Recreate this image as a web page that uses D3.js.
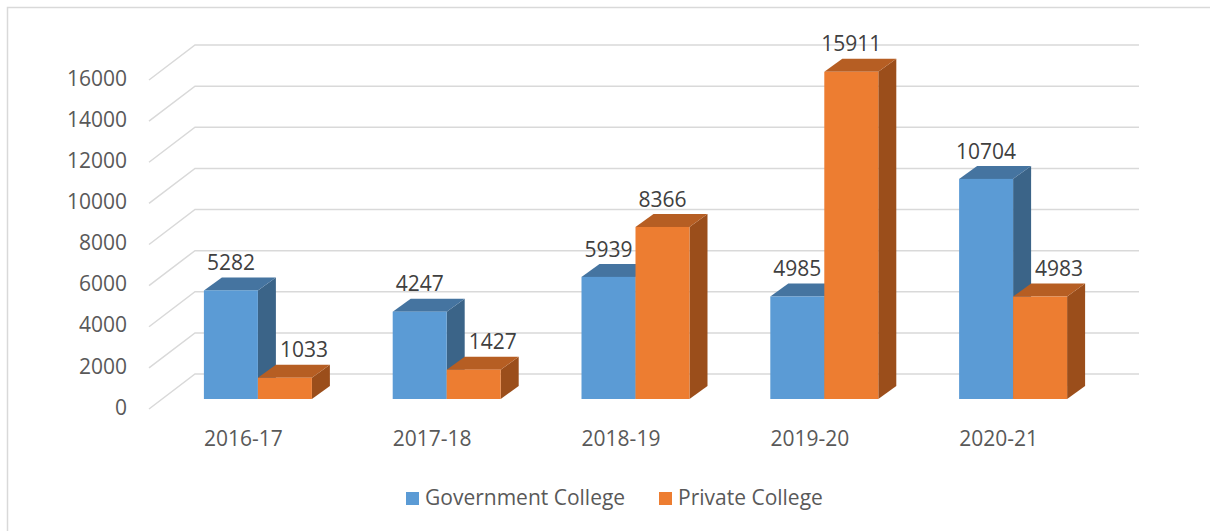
<!DOCTYPE html>
<html>
<head>
<meta charset="utf-8">
<script src="https://cdn.jsdelivr.net/npm/d3@7"></script>
<style>
  body { margin: 0; background: #fff; }
  text { font-family: "Open Sans", sans-serif; }
</style>
</head>
<body>
<div id="chart"></div>
<script>
// data
var categories = ["2016-17", "2017-18", "2018-19", "2019-20", "2020-21"];
var seriesNames = ["Government College", "Private College"];
var government = [5282, 4247, 5939, 4985, 10704];
var privateCol = [1033, 1427, 8366, 15911, 4983];
var yTicks = [0, 2000, 4000, 6000, 8000, 10000, 12000, 14000, 16000];

var colors = {
    "Government College": { front: "#5b9bd5", top: "#4574a0", side: "#3b6488" },
    "Private College": { front: "#ed7d31", top: "#b65e23", side: "#9b4e1b" }
};

var svg = d3.select("#chart")
    .append("svg")
    .attr("width", 1210)
    .attr("height", 531);

// outer border (only left/top visible in the crop)
svg.append("rect")
    .attr("x", 7.5).attr("y", 7.5)
    .attr("width", 1220).attr("height", 540)
    .style("fill", "#fff")
    .style("stroke", "#d9d9d9")
    .style("stroke-width", 1.5);

// 3d setup
var DX = 46, DY = -35;      // wall depth
var BX = 14.5, BY = -10;    // bar front offset
var BDX = 18, BDY = -13;    // bar depth

var xScale = d3.scaleBand().domain(categories).range([149, 1093])
    .paddingInner(0.428).paddingOuter(0.214);
var x1 = d3.scaleBand().domain(seriesNames).range([0, xScale.bandwidth()]);
var yScale = d3.scaleLinear().domain([0, 16000]).range([409, 80]);

// gridlines + y labels
var grid = svg.append("g");
yTicks.forEach(function(t) {
    var y = yScale(t);
    grid.append("path")
        .attr("d", "M149," + y + "L" + (149 + DX) + "," + (y + DY) + "L1139," + (y + DY))
        .style("fill", "none")
        .style("stroke", "#d9d9d9")
        .style("stroke-width", 1.5);
    svg.append("text")
        .attr("x", 127)
        .attr("y", y)
        .attr("text-anchor", "end")
        .attr("dominant-baseline", "middle")
        .style("font-size", "21px")
        .style("fill", "#595959")
        .text(t);
});

// category labels
categories.forEach(function(c) {
    svg.append("text")
        .attr("x", xScale(c) + xScale.bandwidth() / 2)
        .attr("y", 440)
        .attr("text-anchor", "middle")
        .attr("dominant-baseline", "middle")
        .style("font-size", "21px")
        .style("fill", "#595959")
        .text(c);
});

// bars
var bars = svg.append("g");
var labels = [];
categories.forEach(function(c, i) {
    var vals = [government[i], privateCol[i]];
    seriesNames.forEach(function(s, j) {
        var v = vals[j];
        var x0 = xScale(c) + x1(s) + BX;
        var w = x1.bandwidth();
        var yb = yScale(0) + BY;
        var yt = yScale(v) + BY;
        var col = colors[s];
        // side
        bars.append("path")
            .attr("d", "M" + (x0 + w) + "," + yt + "L" + (x0 + w + BDX) + "," + (yt + BDY) +
                "L" + (x0 + w + BDX) + "," + (yb + BDY) + "L" + (x0 + w) + "," + yb + "Z")
            .style("fill", col.side);
        // top
        bars.append("path")
            .attr("d", "M" + x0 + "," + yt + "L" + (x0 + BDX) + "," + (yt + BDY) +
                "L" + (x0 + w + BDX) + "," + (yt + BDY) + "L" + (x0 + w) + "," + yt + "Z")
            .style("fill", col.top);
        // front
        bars.append("rect")
            .attr("x", x0).attr("y", yt)
            .attr("width", w).attr("height", yb - yt)
            .style("fill", col.front);
        // label, nudged right when the neighbour bar is taller
        var shift = (j === 1 && vals[0] > vals[1]) ? 19 : 0;
        labels.push({ x: x0 + w / 2 + shift, y: yt - 26, v: v });
    });
});

svg.append("g").selectAll("text")
    .data(labels)
    .enter()
    .append("text")
    .attr("x", function(d) { return d.x; })
    .attr("y", function(d) { return d.y; })
    .attr("text-anchor", "middle")
    .attr("dominant-baseline", "middle")
    .style("font-size", "21px")
    .style("fill", "#404040")
    .text(function(d) { return d.v; });

// legend
var legendX = [406, 659];
seriesNames.forEach(function(s, j) {
    svg.append("rect")
        .attr("x", legendX[j]).attr("y", 492)
        .attr("width", 13).attr("height", 13)
        .style("fill", colors[s].front);
    svg.append("text")
        .attr("x", legendX[j] + 19)
        .attr("y", 499)
        .attr("dominant-baseline", "middle")
        .style("font-size", "21px")
        .style("fill", "#595959")
        .text(s);
});
</script>
</body>
</html>
